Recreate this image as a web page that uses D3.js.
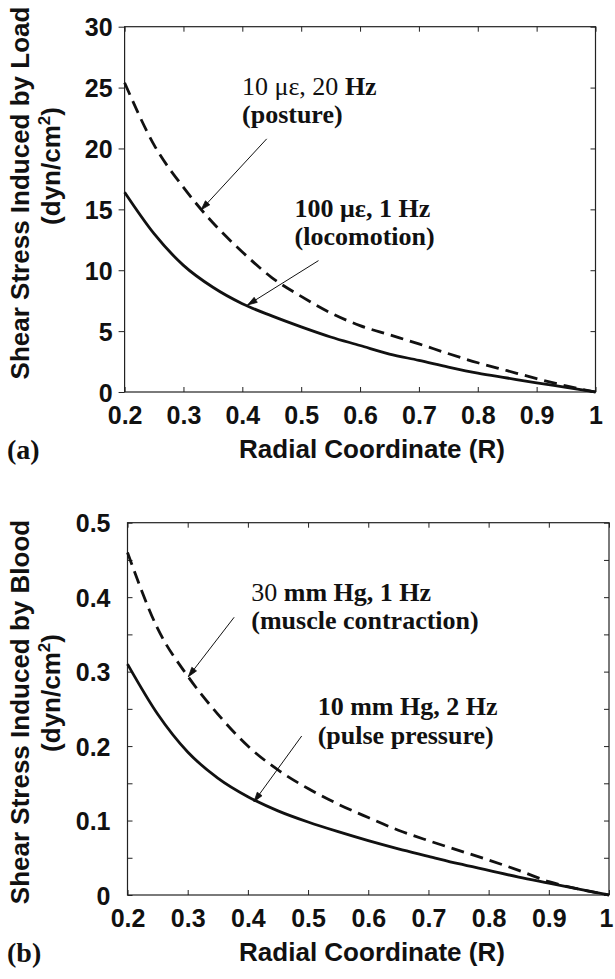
<!DOCTYPE html>
<html><head><meta charset="utf-8">
<script src="https://cdn.jsdelivr.net/npm/d3@7/dist/d3.min.js"></script>
<style>body{margin:0;background:#fff}</style></head>
<body><svg id="c" width="615" height="979"></svg>
<script>
// ---- data ----
const radial = [0.2,0.25,0.3,0.35,0.4,0.45,0.5,0.55,0.6,0.65,0.7,0.75,0.8,0.85,0.9,0.95,1.0];
const loadPosture    = [25.4,20.3,16.8,13.9,11.5,9.4,7.85,6.5,5.45,4.7,3.95,3.15,2.4,1.75,1.1,0.5,0];
const loadLocomotion = [16.4,13.0,10.4,8.6,7.25,6.25,5.35,4.52,3.82,3.11,2.6,2.05,1.55,1.15,0.75,0.38,0];
const bloodMuscle = [0.46,0.358,0.294,0.243,0.2,0.168,0.143,0.122,0.104,0.087,0.073,0.06,0.047,0.033,0.018,0.008,0];
const bloodPulse  = [0.31,0.243,0.192,0.157,0.132,0.113,0.098,0.085,0.073,0.062,0.052,0.042,0.033,0.024,0.016,0.008,0];

const xTicks = [0.2,0.3,0.4,0.5,0.6,0.7,0.8,0.9,1.0];
const xTickLabels = ["0.2","0.3","0.4","0.5","0.6","0.7","0.8","0.9","1"];
const loadYTicks = [0,5,10,15,20,25,30];
const loadYTickLabels = ["0","5","10","15","20","25","30"];
const bloodYTicks = [0,0.05,0.1,0.15,0.2,0.25,0.3,0.35,0.4,0.45,0.5];
const bloodYTickLabels = ["0","","0.1","","0.2","","0.3","","0.4","","0.5"];

const xTitle = "Radial Coordinate (R)";
const loadYTitle = "Shear Stress Induced by Load";
const bloodYTitle = "Shear Stress Induced by Blood";
const unitMain = "(dyn/cm", unitSup = "2", unitEnd = ")";

// annotations (normal-weight prefix + bold remainder, second line bold)
const loadNotePlain = ["10 με, 20 ", ""];
const loadNoteBold  = ["Hz", "100 με, 1 Hz"];
const loadNoteSub   = ["(posture)", "(locomotion)"];
const loadNoteAt    = [[0.3995,24.41],[0.4888,14.38]];
const loadArrowFrom = [[0.4414,20.79],[0.5294,10.79]];
const loadArrowTo   = [[0.33,14.96],[0.409,7.15]];

const bloodNotePlain = ["30 ", ""];
const bloodNoteBold  = ["mm Hg, 1 Hz", "10 mm Hg, 2 Hz"];
const bloodNoteSub   = ["(muscle contraction)", "(pulse pressure)"];
const bloodNoteAt    = [[0.4056,0.3952],[0.516,0.2417]];
const bloodArrowFrom = [[0.3772,0.373],[0.4894,0.2135]];
const bloodArrowTo   = [[0.3011,0.2932],[0.4102,0.1253]];

// ---- drawing ----
const svg = d3.select("#c");
const SANS = "'Liberation Sans', Arial, Helvetica, sans-serif";
const SERIF = "'Liberation Serif', 'Times New Roman', Times, serif";
const INK = "#111";

function panel(cfg) {
  const x = d3.scaleLinear().domain([0.2, 1]).range([cfg.x0, cfg.x1]);
  const y = d3.scaleLinear().domain(cfg.yDomain).range([cfg.y1, cfg.y0]);
  const g = svg.append("g");

  g.append("rect").attr("x", cfg.x0).attr("y", cfg.y0)
    .attr("width", cfg.x1 - cfg.x0).attr("height", cfg.y1 - cfg.y0)
    .attr("fill", "none").attr("stroke", "#222").attr("stroke-width", 1.2);

  const styleTicks = sel => {
    sel.select(".domain").remove();
    sel.selectAll(".tick line").attr("stroke", "#222").attr("stroke-width", 1);
    sel.selectAll("text").attr("font-family", SANS).attr("font-weight", "bold")
      .attr("font-size", 25).attr("fill", INK);
  };

  // bottom axis (labels)
  g.append("g").attr("transform", `translate(0,${cfg.y1})`)
    .call(d3.axisBottom(x).tickValues(xTicks).tickFormat((d, i) => xTickLabels[i])
      .tickSizeInner(-5).tickSizeOuter(0))
    .call(styleTicks)
    .call(s => s.selectAll("text").attr("y", 32).attr("dy", 0)
      .attr("x", (d, i) => i === xTicks.length - 1 ? cfg.lastShift : 0));
  // top axis
  g.append("g").attr("transform", `translate(0,${cfg.y0})`)
    .call(d3.axisTop(x).tickValues(xTicks).tickFormat("").tickSizeInner(-5).tickSizeOuter(0))
    .call(styleTicks);
  // left axis
  g.append("g").attr("transform", `translate(${cfg.x0},0)`)
    .call(d3.axisLeft(y).tickValues(cfg.yTicks).tickFormat((d, i) => cfg.yLabels[i])
      .tickSizeInner(cfg.leftTick).tickSizeOuter(0))
    .call(styleTicks)
    .call(s => s.selectAll("text").attr("x", -cfg.labelGap).attr("dy", "0.36em"));
  // right axis
  g.append("g").attr("transform", `translate(${cfg.x1},0)`)
    .call(d3.axisRight(y).tickValues(cfg.yTicks).tickFormat("").tickSizeInner(-5).tickSizeOuter(0))
    .call(styleTicks);

  const line = d3.line().x((d, i) => x(radial[i])).y(d => y(d)).curve(d3.curveMonotoneX);
  g.append("path").attr("d", line(cfg.dashed)).attr("fill", "none").attr("stroke", INK)
    .attr("stroke-width", 2.8).attr("stroke-dasharray", "13,7");
  g.append("path").attr("d", line(cfg.solid)).attr("fill", "none").attr("stroke", INK)
    .attr("stroke-width", 2.8);

  // annotations
  cfg.notePlain.forEach((p, i) => {
    const [ax, ay] = cfg.noteAt[i];
    const t = g.append("text").attr("x", x(ax)).attr("y", y(ay))
      .attr("font-family", SERIF).attr("font-size", 26).attr("fill", INK);
    if (p) t.append("tspan").attr("font-weight", "normal").text(p);
    t.append("tspan").attr("font-weight", "bold").text(cfg.noteBold[i]);
    g.append("text").attr("x", x(ax)).attr("y", y(ay) + 28.5)
      .attr("font-family", SERIF).attr("font-size", 26).attr("font-weight", "bold")
      .attr("fill", INK).text(cfg.noteSub[i]);

    const x1 = x(cfg.arrowFrom[i][0]), y1 = y(cfg.arrowFrom[i][1]);
    const x2 = x(cfg.arrowTo[i][0]), y2 = y(cfg.arrowTo[i][1]);
    g.append("line").attr("x1", x1).attr("y1", y1).attr("x2", x2).attr("y2", y2)
      .attr("stroke", INK).attr("stroke-width", 1);
    const ang = Math.atan2(y2 - y1, x2 - x1), L = 10, w = 0.3;
    const p1 = [x2 - L * Math.cos(ang - w), y2 - L * Math.sin(ang - w)];
    const p2 = [x2 - L * Math.cos(ang + w), y2 - L * Math.sin(ang + w)];
    g.append("path").attr("d", `M${p1[0]},${p1[1]}L${x2},${y2}L${p2[0]},${p2[1]}Z`)
      .attr("fill", INK).attr("stroke", INK).attr("stroke-width", 0.8);
  });

  // titles
  g.append("text").attr("x", 372).attr("y", cfg.y1 + 66).attr("text-anchor", "middle")
    .attr("font-family", SANS).attr("font-weight", "bold").attr("font-size", 26)
    .attr("fill", INK).text(xTitle);
  g.append("text").attr("x", 7).attr("y", cfg.y1 + 67)
    .attr("font-family", SERIF).attr("font-weight", "bold").attr("font-size", 28)
    .attr("fill", INK).text(cfg.tag);
  g.append("text").attr("transform", `translate(29,${cfg.titleY}) rotate(-90)`)
    .attr("text-anchor", "middle").attr("font-family", SANS).attr("font-weight", "bold")
    .attr("font-size", 26).attr("fill", INK).text(cfg.yTitle);
  const u = g.append("text").attr("transform", `translate(60,${cfg.unitY}) rotate(-90)`)
    .attr("text-anchor", "middle").attr("font-family", SANS).attr("font-weight", "bold")
    .attr("font-size", 26).attr("fill", INK);
  u.append("tspan").text(unitMain);
  u.append("tspan").attr("font-size", 17).attr("dy", -10).text(unitSup);
  u.append("tspan").attr("dy", 10).text(unitEnd);
}

panel({
  x0: 124.6, x1: 595.5, y0: 26.7, y1: 392, yDomain: [0, 30],
  yTicks: loadYTicks, yLabels: loadYTickLabels, leftTick: 6, labelGap: 12, lastShift: 0,
  dashed: loadPosture, solid: loadLocomotion,
  notePlain: loadNotePlain, noteBold: loadNoteBold, noteSub: loadNoteSub, noteAt: loadNoteAt,
  arrowFrom: loadArrowFrom, arrowTo: loadArrowTo,
  tag: "(a)", yTitle: loadYTitle, titleY: 193, unitY: 166
});
panel({
  x0: 127.5, x1: 609, y0: 522.7, y1: 895, yDomain: [0, 0.5],
  yTicks: bloodYTicks, yLabels: bloodYTickLabels, leftTick: -5, labelGap: 17, lastShift: -3,
  dashed: bloodMuscle, solid: bloodPulse,
  notePlain: bloodNotePlain, noteBold: bloodNoteBold, noteSub: bloodNoteSub, noteAt: bloodNoteAt,
  arrowFrom: bloodArrowFrom, arrowTo: bloodArrowTo,
  tag: "(b)", yTitle: bloodYTitle, titleY: 712, unitY: 693
});
</script></body></html>
